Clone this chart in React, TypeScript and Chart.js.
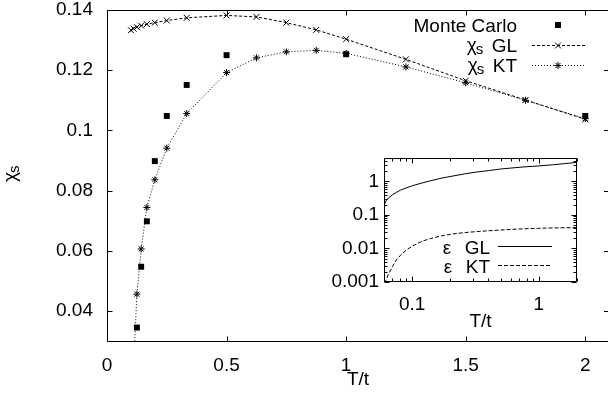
import React, { useEffect, useRef } from 'react';
import { Chart, registerables } from 'chart.js';

Chart.register(...registerables);

const FAMILY = '"Liberation Sans", Arial, Helvetica, sans-serif';
const FS = 19;
const FMAIN = `${FS}px ${FAMILY}`;
const FSUB = `15px ${FAMILY}`;

// ---- main chart data (chi_s vs T/t) ----
const tGL = [0.1, 0.1111, 0.125, 0.1429, 0.1667, 0.2, 0.25, 0.3333, 0.5, 0.625, 0.75, 0.875, 1, 1.25, 1.5, 1.75, 2];
const chiGL = [0.1333, 0.1338, 0.1343, 0.1348, 0.1353, 0.1358, 0.1365, 0.1374, 0.1382, 0.1377, 0.1358, 0.1334, 0.1303, 0.1236, 0.1165, 0.1101, 0.1037];
const tKT = [0.1111, 0.125, 0.1429, 0.1667, 0.2, 0.25, 0.3333, 0.5, 0.625, 0.75, 0.875, 1, 1.25, 1.5, 1.75, 2];
const chiKT = [0.022, 0.0456, 0.0606, 0.0744, 0.0836, 0.0941, 0.1056, 0.1192, 0.1241, 0.1261, 0.1266, 0.1256, 0.1211, 0.1158, 0.11, 0.1039];
const tMC = [0.125, 0.1429, 0.1667, 0.2, 0.25, 0.3333, 0.5, 1, 2];
const chiMC = [0.0345, 0.0547, 0.0698, 0.0898, 0.1048, 0.1151, 0.125, 0.1253, 0.1048];

const xTicks = [0, 0.5, 1, 1.5, 2];
const yTicks = [0.04, 0.06, 0.08, 0.1, 0.12, 0.14];

// ---- inset data (epsilon vs T/t, log-log) ----
const epsT = [0.06, 0.062, 0.065, 0.07, 0.075, 0.081, 0.09, 0.1, 0.12, 0.14, 0.17, 0.21, 0.26, 0.32, 0.4, 0.5, 0.6, 0.75, 1, 1.3, 1.6, 2];
const epsGL = [0.19, 0.26, 0.32, 0.4, 0.47, 0.55, 0.64, 0.74, 0.9, 1.05, 1.25, 1.45, 1.68, 1.9, 2.1, 2.35, 2.5, 2.7, 2.9, 3.15, 3.4, 3.7];
const epsKT = [0.0006, 0.0011, 0.0017, 0.0029, 0.0045, 0.0063, 0.009, 0.0117, 0.0165, 0.0198, 0.0238, 0.0272, 0.0298, 0.0318, 0.0338, 0.0355, 0.0372, 0.0385, 0.04, 0.041, 0.0415, 0.0418];

const insetXTicks = [0.1, 1];
const insetYTicks = [0.001, 0.01, 0.1, 1];

const fmt = (v: number) => String(Math.round(v * 1000) / 1000);

function line(ctx: CanvasRenderingContext2D, x1: number, y1: number, x2: number, y2: number) {
  ctx.beginPath();
  ctx.moveTo(x1, y1);
  ctx.lineTo(x2, y2);
  ctx.stroke();
}

function drawCrossRot(ctx: CanvasRenderingContext2D, x: number, y: number, r: number) {
  const o = r * Math.SQRT1_2;
  line(ctx, x - o, y - o, x + o, y + o);
  line(ctx, x - o, y + o, x + o, y - o);
}

function drawStar(ctx: CanvasRenderingContext2D, x: number, y: number, r: number) {
  drawCrossRot(ctx, x, y, r);
  line(ctx, x - r, y, x + r, y);
  line(ctx, x, y - r, x, y + r);
}

function chiS(ctx: CanvasRenderingContext2D, x: number, base: number) {
  ctx.textAlign = 'left';
  ctx.textBaseline = 'alphabetic';
  ctx.font = FMAIN;
  ctx.fillText('χ', x, base - 1);
  const w = ctx.measureText('χ').width;
  ctx.font = FSUB;
  ctx.fillText('s', x + w - 1, base + 2);
}

const zeroPad = (s: any) => {
  s.paddingTop = 0;
  s.paddingBottom = 0;
  s.paddingLeft = 0;
  s.paddingRight = 0;
};

const mainFrame = {
  id: 'mainFrame',
  afterDraw(chart: any) {
    const { ctx, chartArea: a, scales } = chart;
    const x = scales.x;
    const y = scales.y;
    ctx.save();
    ctx.setLineDash([]);
    ctx.strokeStyle = '#000';
    ctx.fillStyle = '#000';
    ctx.lineWidth = 1;
    const L = Math.round(a.left) + 0.5;
    const T = Math.round(a.top) + 0.5;
    const B = Math.round(a.bottom) - 0.5;
    const R = a.right;
    line(ctx, L, T, R, T);
    line(ctx, L, B, R, B);
    line(ctx, L, T, L, B);
    const tl = 5;
    xTicks.forEach((v) => {
      const px = Math.round(x.getPixelForValue(v)) + 0.5;
      line(ctx, px, B, px, B - tl);
      line(ctx, px, T, px, T + tl);
    });
    yTicks.forEach((v) => {
      const py = Math.round(y.getPixelForValue(v)) + 0.5;
      line(ctx, L, py, L + tl, py);
      line(ctx, R - tl + 1, py, R, py);
    });

    // axis titles
    ctx.font = FMAIN;
    ctx.textAlign = 'center';
    ctx.textBaseline = 'middle';
    ctx.fillText('T/t', (a.left + 609) / 2, 380);
    ctx.save();
    ctx.translate(16.5, 182);
    ctx.rotate(-Math.PI / 2);
    chiS(ctx, 0, 0);
    ctx.restore();

    // legend
    const ds = chart.data.datasets;
    const textR = 517;
    const rows = [25, 45, 65];
    ctx.font = FMAIN;
    ctx.textAlign = 'right';
    ctx.textBaseline = 'alphabetic';
    ctx.fillText(ds[0].label, textR, rows[0] + 7);
    ctx.fillText(ds[1].label, textR, rows[1] + 7);
    ctx.fillText(ds[2].label, textR, rows[2] + 7);
    const glW = ctx.measureText(ds[1].label).width;
    const ktW = ctx.measureText(ds[2].label).width;
    chiS(ctx, textR - glW - 25, rows[1] + 7);
    chiS(ctx, textR - ktW - 25, rows[2] + 7);
    const sx1 = 532;
    const sx2 = 585;
    const mx = 558;
    ctx.fillRect(mx - 3, rows[0] - 3, 6, 6);
    ctx.setLineDash(ds[1].borderDash);
    line(ctx, sx1, rows[1] + 0.5, sx2, rows[1] + 0.5);
    ctx.setLineDash(ds[2].borderDash);
    line(ctx, sx1, rows[2] + 0.5, sx2, rows[2] + 0.5);
    ctx.setLineDash([]);
    drawCrossRot(ctx, mx, rows[1] + 0.5, ds[1].pointRadius);
    drawStar(ctx, mx, rows[2] + 0.5, ds[2].pointRadius);
    ctx.restore();
  },
};

function decadeMinors(min: number, max: number) {
  const out: number[] = [];
  for (let e = -4; e <= 1; e++) {
    for (let k = 2; k <= 9; k++) {
      const v = k * Math.pow(10, e);
      if (v >= min * 0.999 && v <= max * 1.001) out.push(v);
    }
  }
  return out;
}

const insetFrame = {
  id: 'insetFrame',
  afterDraw(chart: any) {
    const { ctx, chartArea: a, scales } = chart;
    const x = scales.x;
    const y = scales.y;
    ctx.save();
    ctx.setLineDash([]);
    ctx.strokeStyle = '#000';
    ctx.fillStyle = '#000';
    ctx.lineWidth = 1;
    const L = Math.round(a.left) + 0.5;
    const T = Math.round(a.top) + 0.5;
    const B = Math.round(a.bottom) - 0.5;
    const R = Math.round(a.right) - 0.5;
    ctx.strokeRect(L, T, R - L, B - T);
    const major = 5;
    const minor = 3;
    const xmin = x.min, xmax = x.max, ymin = y.min, ymax = y.max;
    const xt = (v: number, len: number) => {
      const px = Math.round(x.getPixelForValue(v)) + 0.5;
      line(ctx, px, B, px, B - len);
      line(ctx, px, T, px, T + len);
    };
    const yt = (v: number, len: number) => {
      const py = Math.round(y.getPixelForValue(v)) + 0.5;
      line(ctx, L, py, L + len, py);
      line(ctx, R, py, R - len, py);
    };
    insetXTicks.forEach((v) => xt(v, major));
    decadeMinors(xmin, xmax).forEach((v) => xt(v, minor));
    insetYTicks.forEach((v) => yt(v, major));
    decadeMinors(ymin, ymax).forEach((v) => yt(v, minor));

    ctx.font = FMAIN;
    ctx.textAlign = 'center';
    ctx.textBaseline = 'middle';
    ctx.fillText('T/t', (a.left + a.right) / 2, 171.5);

    // legend
    const ds = chart.data.datasets;
    const rows = [96.5, 115.5];
    const textR = 180;
    ds.forEach((d: any, i: number) => {
      ctx.textBaseline = 'alphabetic';
      ctx.textAlign = 'right';
      ctx.fillText(d.label, textR, rows[i] + 7);
      const w = ctx.measureText(d.label).width;
      ctx.textAlign = 'left';
      ctx.fillText('ε', textR - w - 22, rows[i] + 7);
      ctx.setLineDash(d.borderDash || []);
      line(ctx, 188, rows[i], 242, rows[i]);
    });
    ctx.restore();
  },
};

export default function App() {
  const mainRef = useRef<HTMLCanvasElement>(null);
  const insetRef = useRef<HTMLCanvasElement>(null);

  useEffect(() => {
    const tickFont = { family: FAMILY, size: FS, lineHeight: 1 };
    const noGrid = { display: false, drawTicks: false, tickLength: 0 };
    const main = new Chart(mainRef.current!, {
      type: 'scatter',
      data: {
        datasets: [
          {
            label: 'Monte Carlo',
            data: tMC.map((t, i) => ({ x: t, y: chiMC[i] })),
            showLine: false,
            pointStyle: 'rect',
            pointRadius: 4.2,
            pointBorderWidth: 0,
            backgroundColor: '#000',
            borderColor: '#000',
          },
          {
            label: 'GL',
            data: tGL.map((t, i) => ({ x: t, y: chiGL[i] })),
            showLine: true,
            borderColor: '#000',
            backgroundColor: '#000',
            borderWidth: 1,
            borderDash: [3, 2],
            pointStyle: 'crossRot',
            pointRadius: 4.2,
            pointBorderWidth: 1,
          },
          {
            label: 'KT',
            data: tKT.map((t, i) => ({ x: t, y: chiKT[i] })),
            showLine: true,
            borderColor: '#000',
            backgroundColor: '#000',
            borderWidth: 1,
            borderDash: [1, 2],
            pointStyle: 'star',
            pointRadius: 3.5,
            pointBorderWidth: 1,
          },
        ],
      } as any,
      options: {
        responsive: false,
        animation: false,
        events: [],
        layout: { autoPadding: false, padding: { top: 10, right: 0, left: 0, bottom: 0 } },
        plugins: { legend: { display: false }, tooltip: { enabled: false } },
        scales: {
          x: {
            type: 'linear',
            min: 0,
            max: 2.095,
            grid: noGrid,
            border: { display: false },
            afterBuildTicks: (s: any) => { s.ticks = xTicks.map((v) => ({ value: v })); },
            afterFit: (s: any) => { s.height = 54; zeroPad(s); },
            ticks: { color: '#000', font: tickFont, padding: 14, maxRotation: 0, autoSkip: false, callback: (v: any) => fmt(Number(v)) },
          },
          y: {
            type: 'linear',
            min: 0.0297,
            max: 0.14,
            grid: noGrid,
            border: { display: false },
            afterBuildTicks: (s: any) => { s.ticks = yTicks.map((v) => ({ value: v })); },
            afterFit: (s: any) => { s.width = 107; zeroPad(s); },
            ticks: { color: '#000', font: tickFont, padding: 14, autoSkip: false, callback: (v: any) => fmt(Number(v)) },
          },
        },
      } as any,
      plugins: [mainFrame],
    });

    const inset = new Chart(insetRef.current!, {
      type: 'scatter',
      data: {
        datasets: [
          {
            label: 'GL',
            data: epsT.map((t, i) => ({ x: t, y: epsGL[i] })),
            showLine: true,
            borderColor: '#000',
            borderWidth: 1,
            pointRadius: 0,
          },
          {
            label: 'KT',
            data: epsT.map((t, i) => ({ x: t, y: epsKT[i] })),
            showLine: true,
            borderColor: '#000',
            borderWidth: 1,
            borderDash: [4, 2],
            pointRadius: 0,
          },
        ],
      } as any,
      options: {
        responsive: false,
        animation: false,
        events: [],
        layout: { autoPadding: false, padding: { top: 8, right: 23, left: 0, bottom: 0 } },
        plugins: { legend: { display: false }, tooltip: { enabled: false } },
        scales: {
          x: {
            type: 'logarithmic',
            min: 0.06,
            max: 2,
            grid: noGrid,
            border: { display: false },
            afterBuildTicks: (s: any) => { s.ticks = insetXTicks.map((v) => ({ value: v })); },
            afterFit: (s: any) => { s.height = 58; zeroPad(s); },
            ticks: { color: '#000', font: tickFont, padding: 13, maxRotation: 0, autoSkip: false, callback: (v: any) => fmt(Number(v)) },
          },
          y: {
            type: 'logarithmic',
            min: 0.001,
            max: 5,
            grid: noGrid,
            border: { display: false },
            afterBuildTicks: (s: any) => { s.ticks = insetYTicks.map((v) => ({ value: v })); },
            afterFit: (s: any) => { s.width = 74; zeroPad(s); },
            ticks: { color: '#000', font: tickFont, padding: 5, autoSkip: false, callback: (v: any) => fmt(Number(v)) },
          },
        },
      } as any,
      plugins: [insetFrame],
    });

    return () => {
      main.destroy();
      inset.destroy();
    };
  }, []);

  return (
    <div style={{ position: 'absolute', left: 0, top: 0, width: 608, height: 396, overflow: 'hidden', background: '#fff' }}>
      <canvas ref={mainRef} width={608} height={396} style={{ position: 'absolute', left: 0, top: 0, width: 608, height: 396 }} />
      <canvas ref={insetRef} width={290} height={190} style={{ position: 'absolute', left: 310, top: 150, width: 290, height: 190 }} />
    </div>
  );
}
